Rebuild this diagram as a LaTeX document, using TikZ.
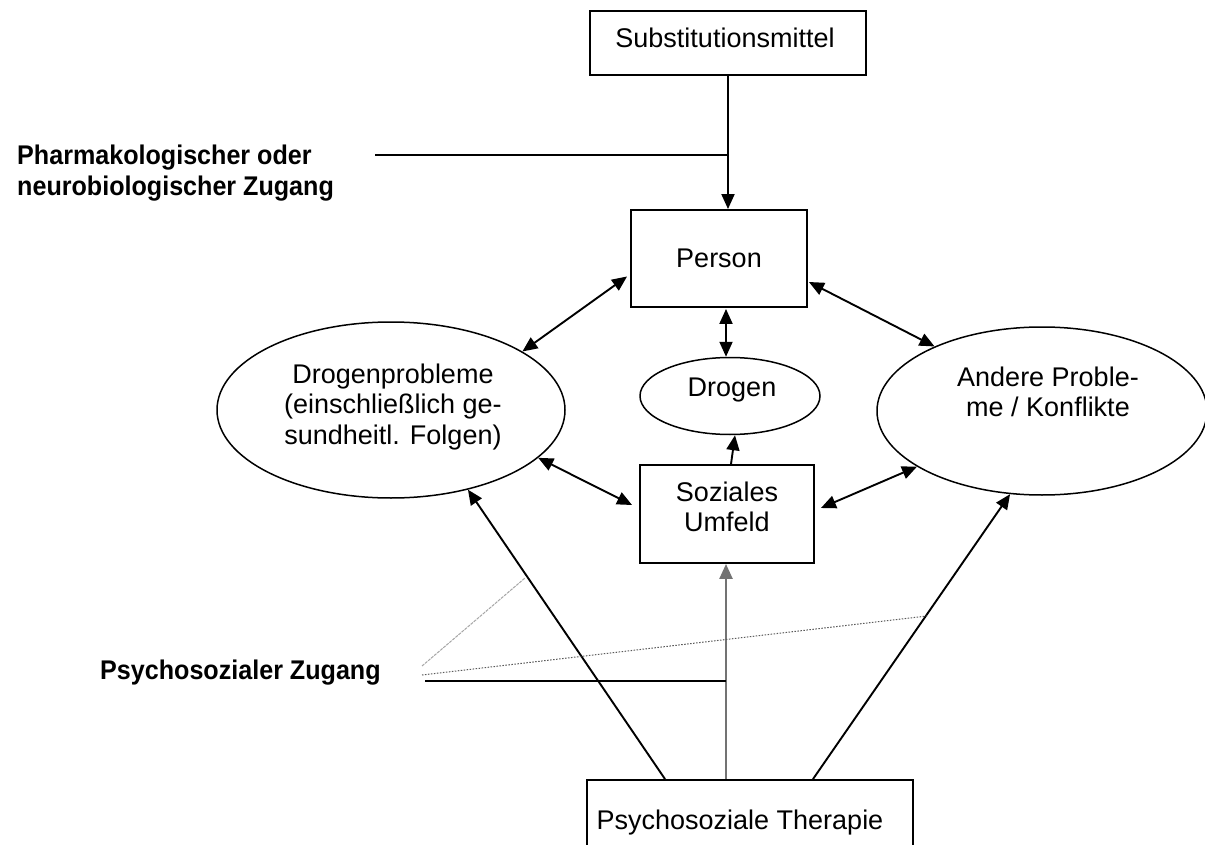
\documentclass[tikz,border=0pt]{standalone}
\usepackage{fontspec}
\setmainfont{Liberation Sans}
\newfontfamily\labfont[FakeStretch=0.93]{Liberation Sans}
\usetikzlibrary{arrows.meta,calc,shapes.geometric}
\begin{document}
\begin{tikzpicture}[x=1pt,y=-1pt,
  box/.style={draw, line width=1.9pt, rectangle, inner sep=0pt},
  ell/.style={draw, line width=1.5pt, ellipse, inner sep=0pt},
  txt/.style={font=\fontsize{27}{30.5}\selectfont, align=center, inner sep=0pt},
  lab/.style={font=\labfont\bfseries\fontsize{27}{31}\selectfont, align=left, inner sep=0pt, anchor=west},
  tip/.tip={Triangle[length=15pt,width=13pt]},
  conn/.style={line width=1.9pt, -tip},
  bi/.style={line width=1.9pt, tip-tip},
  plain/.style={line width=1.7pt},
]
\useasboundingbox (0,0) rectangle (1205,845);
\clip (0,0) rectangle (1205,845);
\fill[white] (0,0) rectangle (1205,845);

% nodes
\node[box, minimum width=276, minimum height=64] (subst) at (728,43) {};
\node[txt] (substT) at (725,38) {Substitutionsmittel};
\node[box, txt, minimum width=176, minimum height=97] (person) at (719,258.5) {Person};
\node[ell, minimum width=180, minimum height=77] (drogen) at (730,396) {};
\node[txt] (drogenT) at (732,390) {Drogen};
\node[ell, minimum width=348, minimum height=176] (dp) at (391,410) {};
\node[txt] (dpT) at (393,407) {Drogenprobleme\\(einschließlich ge-\\sundheitl. Folgen)};
\node[ell, minimum width=330, minimum height=168] (ap) at (1042,411) {};
\node[txt] (apT) at (1048,392) {Andere Proble-\\me / Konflikte};
\node[box, minimum width=174, minimum height=98] (soz) at (727,514) {};
\node[txt] (sozT) at (727,507) {Soziales\\Umfeld};
\node[box, minimum width=326, minimum height=100] (ther) at (750,830) {};
\node[txt] (therT) at (740,823) {Psychosoziale Therapie};

\node[lab] (pharm) at (17,173) {Pharmakologischer oder\\neurobiologischer Zugang};
\node[lab] (psy) at (100,673) {Psychosozialer Zugang};

% connectors
\draw[conn] (subst.south) -- (subst.south |- person.north);
\coordinate (pl) at (375,155);
\draw[plain] (pl) -- (pl -| subst.south);

\draw[bi] ($(person.west)+(-3,18)$) -- (dp.24.7);
\draw[bi] ($(person.east)+(1,23.5)$) -- (ap.149.3);
\draw[bi] ($(person.south)+(7,1)$) -- ($(drogen.north)+(-4,0)$);
\draw[conn] ($(soz.north)+(4,0)$) -- ($(drogen.south)+(5,0)$);
\draw[bi] (dp.-18.8) -- ($(soz.west)+(-7,-9)$);
\draw[bi] ($(soz.east)+(6,-6)$) -- (ap.204.3);

\draw[conn] ($(ther.north)+(-85,0)$) -- (dp.-46.8);
\draw[conn] ($(ther.north)+(63,0)$) -- (ap.249.6);
\draw[line width=2.4pt, black!55, -tip] ($(ther.north)+(-24,0)$) -- (soz.south -| {$(ther.north)+(-24,0)$});

\coordinate (q1) at (425,681);
\draw[plain] (q1) -- (q1 -| {$(ther.north)+(-24,0)$});
\coordinate (q2) at (422,666);
\coordinate (q2e) at (525,578);
\draw[black!35, line width=1pt, dash pattern=on 3pt off 1pt] (q2) -- (q2e);
\coordinate (q3) at (422,675);
\coordinate (q3e) at (927,616);
\draw[black!65, line width=1pt, dash pattern=on 1.5pt off 1.5pt] (q3) -- (q3e);
\end{tikzpicture}
\end{document}
